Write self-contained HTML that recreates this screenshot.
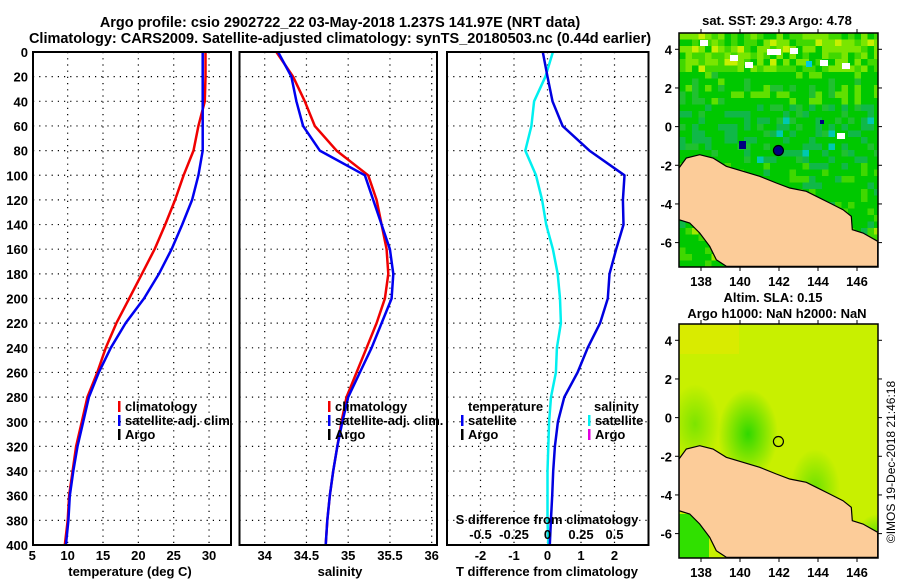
<!DOCTYPE html>
<html><head><meta charset="utf-8">
<style>
body{margin:0;background:#fff;}
svg text{font-family:"Liberation Sans",sans-serif;font-weight:bold;font-size:13px;fill:#000;}
</style></head>
<body>
<svg id="fig" width="900" height="580" viewBox="0 0 900 580" xmlns="http://www.w3.org/2000/svg">
<text x="340" y="27" text-anchor="middle" style="font-size:14.5px">Argo profile: csio 2902722_22 03-May-2018 1.237S 141.97E (NRT data)</text>
<text x="340" y="43" text-anchor="middle" style="font-size:14.5px">Climatology: CARS2009. Satellite-adjusted climatology: synTS_20180503.nc (0.44d earlier)</text>
<g id="plots"></g>
</svg>
<script>
// ---- data ----
const depths = [0,20,40,60,80,100,120,140,160,180,200,220,240,260,280,300,320,340,360,380,400];
const tempClim = [29.5,29.5,29.4,28.5,27.8,26.4,25.2,23.8,22.3,20.5,18.7,16.9,15.4,14.2,12.8,12.0,11.2,10.7,10.2,10.0,9.6];
const tempSat  = [29.1,29.1,29.1,29.1,29.1,28.5,27.6,26.2,24.7,22.9,20.8,18.2,16.1,14.4,13.0,12.2,11.4,10.8,10.3,10.1,9.75];
const salClim = [34.14,34.34,34.48,34.60,34.86,35.24,35.34,35.40,35.46,35.48,35.44,35.34,35.22,35.10,34.98,34.92,34.87,34.82,34.78,34.75,34.73];
const salSat  = [34.16,34.32,34.38,34.46,34.66,35.20,35.30,35.40,35.50,35.54,35.52,35.40,35.28,35.14,35.00,34.93,34.87,34.82,34.78,34.75,34.73];
const tDiffSat = [-0.14,0.0,0.15,0.45,1.25,2.3,2.25,2.27,2.05,1.85,1.8,1.57,1.2,0.9,0.5,0.31,0.22,0.17,0.14,0.10,0.07];
const sDiffSat = [0.04,-0.016,-0.1,-0.12,-0.166,-0.086,-0.04,-0.01,0.04,0.076,0.093,0.10,0.07,0.063,0.026,0.012,0.006,0.0,0.0,0.0,0.006];
const depthTicks = [0,20,40,60,80,100,120,140,160,180,200,220,240,260,280,300,320,340,360,380,400];
const tempTicks = [5,10,15,20,25,30];
const salTicks = [34,34.5,35,35.5,36];
const tdTicks = [-2,-1,0,1,2];
const sdTicks = [-0.5,-0.25,0,0.25,0.5];
const sdTickLabels = ["-0.5","-0.25","0","0.25","0.5"];
const lonTicks = [138,140,142,144,146];
const latTicks = [4,2,0,-2,-4,-6];

const NS="http://www.w3.org/2000/svg";
const G=document.getElementById('plots');
function mk(tag,attrs,parent){const e=document.createElementNS(NS,tag);for(const k in attrs)e.setAttribute(k,attrs[k]);(parent||G).appendChild(e);return e;}
function txt(s,x,y,anchor,parent){const t=mk('text',{x:x,y:y,'text-anchor':anchor||'middle'},parent);t.textContent=s;return t;}

const Y0=52,Y1=545;
const yD=d=>Y0+d*(Y1-Y0)/400;
const xT=v=>32.3+(v-5)*7.07;
const xS=v=>264.7+(v-34)*83.5;
const xTD=v=>547.5+v*33.5;
const xSD=v=>547.5+v*134;

const panels=[{x0:33,x1:231},{x0:239.5,x1:437},{x0:447,x1:648.5}];

function drawPanel(p,xticks,xf,name){
  const g=mk('g',{});
  
  
  depthTicks.forEach(d=>{ if(d>0&&d<400){const l=mk('line',{x1:p.x0,x2:p.x1,y1:yD(d),y2:yD(d),stroke:'#000','stroke-width':1.2,'stroke-dasharray':'1.2,5'},g);
    
    }});
  xticks.forEach(v=>{const x=xf(v); if(x>p.x0+1&&x<p.x1-1){const l=mk('line',{x1:x,x2:x,y1:Y0,y2:Y1,stroke:'#000','stroke-width':1.2,'stroke-dasharray':'1.2,5'},g);
    
    }});
  return g;
}
function drawFrame(p,name){
  const r=mk('rect',{x:p.x0,y:Y0,width:p.x1-p.x0,height:Y1-Y0,fill:'none',stroke:'#000','stroke-width':2});
  
  
}
function line(xs,xf,color,name,w){
  const pts=xs.map((v,i)=>xf(v).toFixed(1)+','+yD(depths[i]).toFixed(1)).join(' ');
  const pl=mk('polyline',{points:pts,fill:'none',stroke:color,'stroke-width':w||2.5,'stroke-linejoin':'round'});
  
  
}
function legendEntry(x,y,color,label,name){
  const r=mk('rect',{x:x,y:y-10,width:2.5,height:11,fill:color});
  
  
  const t=txt(label,x+7,y,'start');
  
  
}

// panel 1 temperature
drawPanel(panels[0],tempTicks,xT,'temperature-grid');
line(tempClim,xT,'#f00000','temperature-climatology-line');
line(tempSat,xT,'#0000f0','temperature-satellite-line');
drawFrame(panels[0],'temperature-axes');
depthTicks.forEach(d=>{const t=txt(String(d),28,yD(d)+5,'end');});
tempTicks.forEach(v=>{const t=txt(String(v),xT(v),560);});
{const t=txt('temperature (deg C)',130,576);}
legendEntry(118,411,'#f00000','climatology','legend-climatology');
legendEntry(118,425,'#0000f0','satellite-adj. clim.','legend-satellite-adj');
legendEntry(118,439,'#000','Argo','legend-argo');

// panel 2 salinity
drawPanel(panels[1],salTicks,xS,'salinity-grid');
line(salClim,xS,'#f00000','salinity-climatology-line');
line(salSat,xS,'#0000f0','salinity-satellite-line');
drawFrame(panels[1],'salinity-axes');
salTicks.forEach(v=>{const t=txt(String(v),xS(v),560);});
{const t=txt('salinity',340,576);}
legendEntry(328,411,'#f00000','climatology','legend-sal-climatology');
legendEntry(328,425,'#0000f0','satellite-adj. clim.','legend-sal-satellite-adj');
legendEntry(328,439,'#000','Argo','legend-sal-argo');

// panel 3 differences
drawPanel(panels[2],tdTicks,xTD,'difference-grid');
line(sDiffSat,xSD,'#00f0f0','salinity-difference-line',2.5);
line(tDiffSat,xTD,'#0000e0','temperature-difference-line',2.5);
drawFrame(panels[2],'difference-axes');
tdTicks.forEach(v=>{const t=txt(String(v),xTD(v),560);});
sdTicks.forEach((v,i)=>{const t=txt(sdTickLabels[i],xSD(v),539);});
{const t=txt('S difference from climatology',547,524);}
{const t=txt('T difference from climatology',547,576);}
{const t=txt('temperature',468,411,'start');}
legendEntry(461,425,'#0000f0','satellite','legend-t-satellite');
legendEntry(461,439,'#000','Argo','legend-t-argo');
{const t=txt('salinity',594,411,'start');}
legendEntry(588,425,'#00f0f0','satellite','legend-s-satellite');
legendEntry(588,439,'#e000e0','Argo','legend-s-argo');

// ---- maps ----
const coast=[[0,405],[22,375],[62,365],[102,375],[142,400],[192,415],[242,430],[292,450],[332,465],[382,475],[412,490],[452,510],[492,530],[517,550],[520,590],[552,600],[596,625],[596,700],[142,700],[112,680],[92,640],[62,600],[32,570],[0,560]];
function hash(i,j){let h=(i*374761393+j*668265263)>>>0;h=((h^(h>>>13))*1274126177)>>>0;return (h%1000)/1000;}
function drawMap(top,kind,name){
  const X0=679,W=199,H=234;
  const g=mk('g',{});
  
  
  const cid='clip'+kind;
  const cp=mk('clipPath',{id:cid},g);mk('rect',{x:X0,y:top,width:W,height:H},cp);
  const cg=mk('g',{'clip-path':'url(#'+cid+')'},g);
  if(kind==='sst'){
    mk('rect',{x:X0,y:top,width:W,height:H,fill:'#00c800'},cg);
    const cs=6.5;
    for(let i=0;i<31;i++)for(let j=0;j<36;j++){
      const h=hash(i,j);const yy=j/36;let c=null;
      if(yy<0.15){c=h<0.35?'#7ae600':h<0.6?'#40d800':h<0.7?'#c8f000':null;}
      else if(yy<0.3){c=h<0.2?'#60e000':h<0.35?'#20c030':null;}
      else if(yy<0.55){c=h<0.25?'#10b848':h<0.35?'#20c030':h<0.38?'#00c8b0':null;}
      else {c=h<0.2?'#40d800':h<0.3?'#10b848':h<0.34?'#a0e800':null;}
      if(c)mk('rect',{x:X0+i*cs,y:top+j*cs,width:cs,height:cs,fill:c},cg);
    }
    [[700,40],[730,55],[745,62],[790,48],[820,60],[842,63],[837,133]].forEach(p=>mk('rect',{x:p[0],y:p[1],width:8,height:6,fill:'#fff'},cg));
    mk('rect',{x:767,y:49,width:14,height:6,fill:'#fff'},cg);
    mk('rect',{x:739,y:141,width:7,height:8,fill:'#000080'},cg);
    mk('rect',{x:820,y:120,width:4,height:4,fill:'#000080'},cg);
    mk('rect',{x:806,y:61,width:6,height:6,fill:'#00c8e0'},cg);
  } else {
    const gr=mk('radialGradient',{id:'slaA',cx:'0.5',cy:'0.5',r:'0.5'},g);
    mk('stop',{offset:'0','stop-color':'#30d800'},gr);mk('stop',{offset:'1','stop-color':'#30d800','stop-opacity':'0'},gr);
    mk('rect',{x:X0,y:top,width:W,height:H,fill:'#c8f000'},cg);
    mk('rect',{x:X0,y:top,width:60,height:30,fill:'#e0e800',opacity:0.7},cg);
    mk('ellipse',{cx:748,cy:top+110,rx:30,ry:45,fill:'url(#slaA)'},cg);
    mk('ellipse',{cx:695,cy:top+100,rx:25,ry:40,fill:'url(#slaA)',opacity:0.5},cg);
    mk('ellipse',{cx:815,cy:top+165,rx:25,ry:40,fill:'url(#slaA)',opacity:0.6},cg);
    mk('ellipse',{cx:878,cy:top+220,rx:25,ry:30,fill:'url(#slaA)'},cg);
    mk('rect',{x:X0,y:top+190,width:30,height:44,fill:'#30e000'},cg);
  }
  const pts=coast.map(p=>(X0+p[0]/3).toFixed(1)+','+(top+p[1]/3).toFixed(1)).join(' ');
  const land=mk('polygon',{points:pts,fill:'#fccc99',stroke:'#000','stroke-width':1.2},cg);
  
  
  const fr=mk('rect',{x:X0,y:top,width:W,height:H,fill:'none',stroke:'#000','stroke-width':1.5},g);
  
  
  const xL=v=>701+(v-138)*19.5;
  const yL=v=>top+16.3+(4-v)*19.33;
  lonTicks.forEach(v=>{mk('line',{x1:xL(v),x2:xL(v),y1:top,y2:top-4,stroke:'#000'},g);mk('line',{x1:xL(v),x2:xL(v),y1:top+H,y2:top+H+4,stroke:'#000'},g);
    const t=txt(String(v),xL(v),top+H+19,'middle',g);});
  latTicks.forEach(v=>{mk('line',{x1:X0,x2:X0-4,y1:yL(v),y2:yL(v),stroke:'#000'},g);mk('line',{x1:X0+W,x2:X0+W+4,y1:yL(v),y2:yL(v),stroke:'#000'},g);
    const t=txt(String(v),672,yL(v)+5,'end',g);});
  const mx=xL(141.97),my=yL(-1.237);
  const m=mk('circle',{cx:mx,cy:my,r:5,fill:kind==='sst'?'#000080':'none',stroke:'#000','stroke-width':1.2},g);
  
  
}
drawMap(33,'sst','sst-map');
drawMap(324,'sla','sla-map');
{const t=txt('sat. SST: 29.3 Argo: 4.78',777,25);}
{const t=txt('Altim. SLA: 0.15',773,302);}
{const t=txt('Argo h1000: NaN h2000: NaN',777,318);}
{const t=txt('©IMOS 19-Dec-2018 21:46:18',0,0);t.setAttribute('transform','translate(895,462) rotate(-90)');t.setAttribute('style','font-weight:normal;font-size:12px');
}
</script>
</body></html>
